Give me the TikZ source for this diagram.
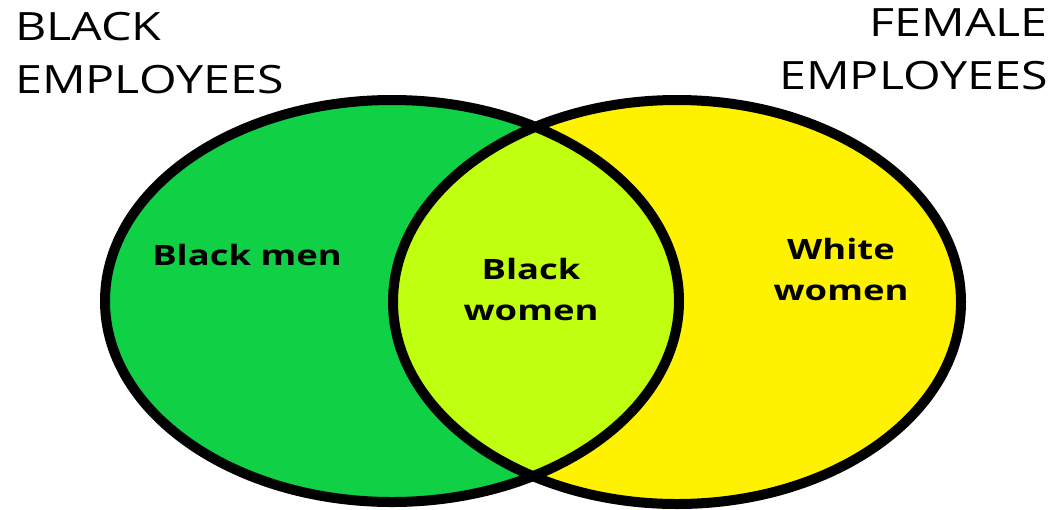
\documentclass[tikz,border=0pt]{standalone}
\usepackage{fontspec}
\setmainfont{Open Sans}
\definecolor{setgreen}{HTML}{10D046}
\definecolor{setyellow}{HTML}{FFF200}
\definecolor{setlime}{HTML}{C0FF10}
\begin{document}
\begin{tikzpicture}[
  x=1pt,y=-1pt,
  title/.style={inner sep=0pt, xscale=1.24, font=\fontsize{39}{53}\selectfont},
  region/.style={inner sep=0pt, xscale=1.3, align=center, font=\fontsize{28}{41}\selectfont\bfseries},
  outline/.style={line width=10pt}
]
\useasboundingbox (0,0) rectangle (1054,509);
\coordinate (B) at (392,301);
\coordinate (F) at (677,302);

\fill[setgreen] (B) ellipse[x radius=287, y radius=201];
\fill[setyellow] (F) ellipse[x radius=284, y radius=202];
\begin{scope}
  \clip (B) ellipse[x radius=287, y radius=201];
  \fill[setlime] (F) ellipse[x radius=284, y radius=202];
\end{scope}
\draw[outline] (B) ellipse[x radius=287, y radius=201];
\draw[outline] (F) ellipse[x radius=284, y radius=202];

\node[title, anchor=north west, align=left] (black) at (15,12) {BLACK\\EMPLOYEES};
\node[title, anchor=north east, align=right] (female) at (1048,8) {FEMALE\\EMPLOYEES};

\node[region] (men) at (247,255) {Black men};
\node[region] (blackwomen) at (531,289) {Black\\women};
\node[region] (whitewomen) at (841,269) {White\\women};
\end{tikzpicture}
\end{document}
